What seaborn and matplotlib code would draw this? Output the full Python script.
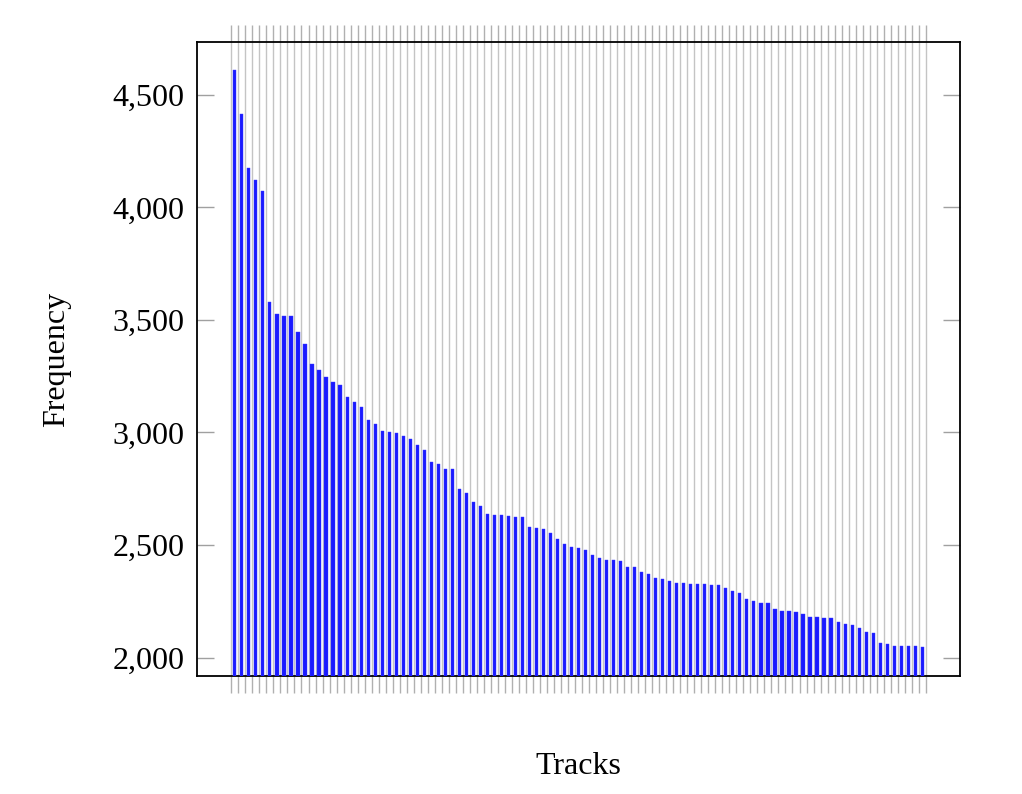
import numpy as np
import pandas as pd
import matplotlib
matplotlib.use("Agg")
import matplotlib.pyplot as plt
from matplotlib.ticker import FuncFormatter
import seaborn as sns

# Frequencies, sorted descending
frequency = [4611, 4414, 4177, 4121, 4073, 3580, 3527, 3519, 3519, 3448,
             3392, 3306, 3279, 3248, 3226, 3210, 3159, 3136, 3115, 3056,
             3039, 3007, 3002, 2999, 2985, 2971, 2944, 2921, 2870, 2860,
             2838, 2836, 2750, 2730, 2693, 2673, 2638, 2635, 2633, 2630,
             2623, 2623, 2581, 2577, 2571, 2555, 2527, 2506, 2491, 2487,
             2478, 2456, 2444, 2433, 2432, 2429, 2402, 2401, 2381, 2370,
             2352, 2348, 2340, 2333, 2331, 2328, 2325, 2325, 2322, 2321,
             2308, 2296, 2287, 2260, 2250, 2242, 2242, 2214, 2207, 2207,
             2202, 2193, 2180, 2180, 2176, 2176, 2157, 2148, 2145, 2131,
             2112, 2110, 2063, 2060, 2052, 2051, 2051, 2051, 2049]
tracks = [str(i + 1) for i in range(len(frequency))]
yticks = [2000, 2500, 3000, 3500, 4000, 4500]

df = pd.DataFrame({"Tracks": tracks, "Frequency": frequency})

sns.set_style("white")
plt.rcParams['font.family'] = ['Liberation Serif', 'DejaVu Serif']
plt.rcParams['text.color'] = 'black'
plt.rcParams['axes.labelcolor'] = 'black'

fig = plt.figure(figsize=(10.22, 7.94), dpi=100)
ax = fig.add_axes([0.1928, 0.1486, 0.7466, 0.7985])

sns.barplot(data=df, x="Tracks", y="Frequency", color="#1a1aff",
            saturation=1, width=0.45, ax=ax, zorder=3,
            edgecolor="#3a3aff", linewidth=0.3)

n = len(frequency)
# grid lines sit between bars, with tick marks sticking out top and bottom
gridpos = np.arange(n + 1) - 0.5
ax.set_xticks(gridpos)
ax.set_xticklabels([])
ax.xaxis.grid(True, color="#c4c4c4", linewidth=1.0, zorder=0)
ax.tick_params(axis="x", which="major", direction="out", length=12,
               width=1.0, color="#b0b0b0", top=True, bottom=True)

ax.set_xlim(-5.39, n - 1 + 5.39)
ax.set_ylim(1918, 4735)
ax.set_yticks(yticks)
ax.yaxis.set_major_formatter(FuncFormatter(lambda v, p: f"{int(v):,}"))
ax.tick_params(axis="y", direction="in", length=12, width=1.0,
               color="#a0a0a0", left=True, right=True, labelsize=23, pad=9,
               labelcolor="black")

for s in ax.spines.values():
    s.set_color("black")
    s.set_linewidth(1.3)

ax.set_xlabel("Tracks", fontsize=23, labelpad=39, color="black")
ax.set_ylabel("Frequency", fontsize=23, labelpad=30, color="black")

fig.savefig("out.png", dpi=100)
